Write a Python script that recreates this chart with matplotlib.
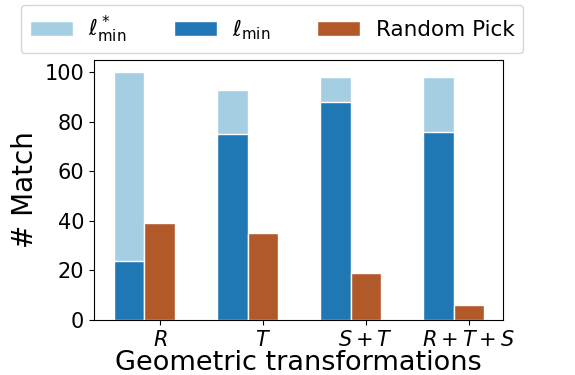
import matplotlib
matplotlib.use("Agg")
from matplotlib import pyplot as plt
import numpy as np

categories = ["$R$", "$T$", "$S+T$", "$R+T+S$"]
lmin_star = [100, 93, 98, 98]
lmin = [24, 75, 88, 76]
random_pick = [39, 35, 19, 6]

fig = plt.figure(figsize=(5.75, 3.75), dpi=100)
ax = fig.add_axes([94/575, 1 - 320/375, (503-94)/575, (320-60)/375])

x = np.arange(len(categories))
width = 0.3
b1 = ax.bar(x - width, lmin_star, width, color="#a6cee3", edgecolor="white", linewidth=1)
b2 = ax.bar(x - width, lmin, width, color="#1f78b4", edgecolor="white", linewidth=1)
b3 = ax.bar(x, random_pick, width, color="#b15928", edgecolor="white", linewidth=1)

ax.set_xticks(x)
ax.set_xticklabels(categories, fontsize=15)
ax.tick_params(axis="y", labelsize=15)
ax.set_xlim(-0.64, 3.33)
ax.set_ylim(0, 105)
ax.set_yticks([0, 20, 40, 60, 80, 100])
ax.set_ylabel("# Match", fontsize=20)
ax.set_xlabel("Geometric transformations", fontsize=19.5, labelpad=0)

fig.legend((b1[0], b2[0], b3[0]),
           (r"$\ell^*_{\min}$", r"$\ell_{\min}$", "Random Pick"),
           loc="upper center", bbox_to_anchor=(272/575, 1 - 5/375),
           borderaxespad=0, ncol=3, fontsize=15.5, handlelength=2.0,
           handletextpad=0.7, columnspacing=2.2)

fig.savefig("out.png")
